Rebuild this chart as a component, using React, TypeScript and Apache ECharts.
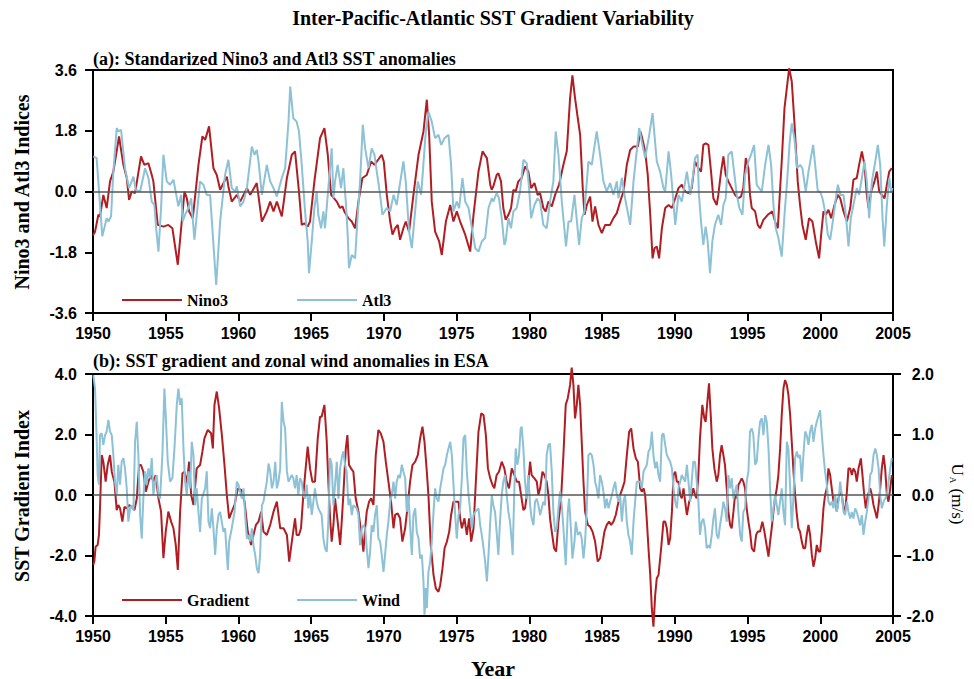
import React, { useEffect, useRef } from 'react';
import * as echarts from 'echarts';

const SANS = '"Liberation Sans", Arial, Helvetica, sans-serif';
const SERIF = '"Liberation Serif", "Times New Roman", Times, serif';
const RED = '#B01E23';
const BLUE = '#8CC1D6';

// x-axis range and ticks (years)
const yearMin = 1950;
const yearMax = 2005;
const yearStep = 5;

// Panel (a): standardized Nino3 index [year, value]
const nino3: [number, number][] = [
[1950.0,-1.30],[1950.14,-1.19],[1950.37,-0.69],[1950.48,-0.74],[1950.71,-0.10],[1950.94,-0.49],[1951.17,0.30],[1951.40,0.59],[1951.79,1.63],[1952.09,0.79],[1952.32,0.40],[1952.48,-0.25],[1952.66,0.00],[1952.89,-0.05],[1953.30,1.04],[1953.53,0.79],[1953.81,0.84],[1954.04,0.49],[1954.15,0.30],[1954.45,-0.99],[1954.84,-1.04],[1955.18,-0.99],[1955.46,-1.09],[1955.83,-2.17],[1956.29,0.00],[1956.45,-0.20],[1956.61,-0.59],[1956.86,-0.79],[1957.25,0.79],[1957.52,1.63],[1957.71,1.53],[1957.98,1.93],[1958.28,0.69],[1958.51,0.49],[1958.74,0.05],[1959.20,0.44],[1959.31,0.15],[1959.54,-0.30],[1959.89,-0.10],[1960.12,-0.30],[1960.58,0.10],[1960.81,-0.10],[1961.26,0.25],[1961.61,-0.89],[1961.95,-0.59],[1962.18,-0.30],[1962.41,-0.59],[1962.64,-0.30],[1962.98,-0.74],[1963.33,0.40],[1963.67,1.09],[1963.89,1.19],[1964.16,0.00],[1964.35,-0.99],[1964.53,-0.94],[1964.76,-1.04],[1964.92,-0.89],[1965.22,0.30],[1965.61,1.58],[1965.91,1.88],[1966.14,1.09],[1966.37,-0.10],[1966.76,-0.30],[1966.98,-0.49],[1967.15,-0.44],[1967.28,-0.59],[1967.56,-0.79],[1967.79,-0.89],[1968.02,-1.09],[1968.25,-0.30],[1968.52,0.40],[1968.82,0.49],[1969.12,0.89],[1969.35,0.79],[1969.85,1.09],[1969.99,0.89],[1970.20,-0.10],[1970.43,-0.89],[1970.59,-1.28],[1970.77,-1.09],[1970.95,-0.99],[1971.11,-1.43],[1971.34,-1.09],[1971.50,-0.89],[1971.73,-1.19],[1972.03,-0.10],[1972.38,1.09],[1972.72,1.78],[1972.95,2.72],[1973.11,1.68],[1973.29,-0.30],[1973.52,-1.19],[1973.80,-1.48],[1973.98,-1.88],[1974.26,-0.89],[1974.56,-0.40],[1974.78,-0.89],[1975.01,-0.59],[1975.24,-0.89],[1975.59,-1.28],[1975.93,-1.78],[1976.16,-0.69],[1976.50,0.59],[1976.78,1.19],[1977.08,0.99],[1977.31,0.20],[1977.41,0.05],[1977.52,0.15],[1977.75,0.49],[1977.87,0.54],[1978.05,0.30],[1978.21,-0.49],[1978.37,-0.84],[1978.56,-0.69],[1978.74,-0.49],[1978.90,0.05],[1979.06,0.00],[1979.24,0.30],[1979.47,0.40],[1979.70,0.74],[1979.93,0.59],[1980.12,0.10],[1980.35,0.25],[1980.57,-0.10],[1980.74,-0.05],[1980.96,-0.49],[1981.12,-0.59],[1981.31,-0.30],[1981.54,-0.44],[1981.77,-0.10],[1982.04,0.20],[1982.34,0.79],[1982.57,1.19],[1982.80,2.77],[1982.96,3.44],[1983.14,2.77],[1983.33,2.17],[1983.49,1.68],[1983.67,0.10],[1983.79,-0.69],[1983.95,-0.40],[1984.18,-0.15],[1984.34,-0.89],[1984.52,-0.44],[1984.75,-0.99],[1984.98,-1.23],[1985.21,-0.99],[1985.55,-0.99],[1985.78,-0.79],[1986.01,-0.64],[1986.24,-0.30],[1986.47,0.00],[1986.70,0.79],[1986.93,1.23],[1987.16,1.33],[1987.46,1.33],[1987.62,1.78],[1987.73,1.63],[1987.96,1.19],[1988.14,0.49],[1988.31,-0.69],[1988.47,-1.98],[1988.60,-1.68],[1988.76,-1.63],[1988.92,-1.98],[1989.11,-1.09],[1989.34,-0.49],[1989.57,-0.40],[1989.80,-0.49],[1990.03,-0.20],[1990.25,0.10],[1990.48,0.20],[1990.71,0.00],[1990.94,-0.05],[1991.16,0.10],[1991.39,0.89],[1991.62,0.69],[1991.80,0.59],[1991.96,1.38],[1992.12,1.43],[1992.31,1.38],[1992.49,0.59],[1992.65,-0.20],[1992.88,-0.40],[1992.99,-0.10],[1993.18,0.59],[1993.34,1.04],[1993.50,0.49],[1993.68,0.30],[1993.91,0.10],[1994.14,-0.10],[1994.37,-0.20],[1994.55,-0.15],[1994.71,0.10],[1994.88,0.99],[1995.06,0.69],[1995.17,-0.10],[1995.29,-0.49],[1995.52,-0.59],[1995.70,-0.99],[1995.86,-1.09],[1996.09,-0.84],[1996.39,-0.69],[1996.71,-0.59],[1996.89,-0.89],[1997.08,-1.09],[1997.35,0.89],[1997.54,2.47],[1997.70,3.06],[1997.86,3.65],[1998.04,3.26],[1998.22,2.07],[1998.45,0.30],[1998.61,-0.40],[1998.77,-0.99],[1999.00,-1.43],[1999.23,-0.79],[1999.46,-0.89],[1999.69,-1.48],[1999.92,-1.98],[2000.06,-1.28],[2000.22,-0.59],[2000.38,-0.69],[2000.56,-0.54],[2000.75,-0.79],[2000.98,-0.40],[2001.21,-0.10],[2001.37,-0.20],[2001.60,-0.59],[2001.83,-0.89],[2002.06,-0.49],[2002.28,0.35],[2002.51,0.40],[2002.67,0.79],[2002.86,1.19],[2003.04,0.79],[2003.20,-0.10],[2003.32,-0.49],[2003.50,0.00],[2003.73,0.30],[2003.89,0.59],[2004.05,0.00],[2004.23,-0.10],[2004.42,-0.20],[2004.58,0.20],[2004.74,0.59],[2004.92,0.69]
];

// Panel (a): standardized Atl3 index [year, value]
const atl3: [number, number][] = [
[1950.02,1.04],[1950.25,0.99],[1950.64,-1.33],[1950.94,-0.79],[1951.06,-0.89],[1951.24,-0.74],[1951.40,0.59],[1951.63,1.88],[1951.74,1.78],[1951.93,1.83],[1952.20,0.69],[1952.48,0.10],[1952.78,0.44],[1952.94,0.05],[1953.24,0.00],[1953.58,0.69],[1953.81,0.40],[1954.04,-0.30],[1954.22,-0.40],[1954.34,-1.09],[1954.50,-1.78],[1954.68,-0.49],[1954.84,1.09],[1955.07,0.30],[1955.30,0.20],[1955.53,0.35],[1955.87,-0.44],[1956.06,-0.10],[1956.17,-0.89],[1956.33,-0.69],[1956.56,-0.49],[1956.75,-0.20],[1956.97,-1.43],[1957.36,0.30],[1957.59,0.20],[1957.82,-0.10],[1958.05,-0.10],[1958.47,-2.77],[1958.74,-0.89],[1959.08,0.49],[1959.31,0.94],[1959.54,0.10],[1959.77,0.00],[1959.89,0.15],[1960.12,-0.44],[1960.35,-0.30],[1960.58,0.10],[1960.92,1.33],[1961.10,1.09],[1961.26,1.23],[1961.38,0.89],[1961.61,-0.10],[1961.95,0.79],[1962.18,0.30],[1962.41,0.10],[1962.64,-0.15],[1962.98,0.40],[1963.21,0.69],[1963.44,2.07],[1963.56,3.11],[1963.77,2.17],[1964.00,2.07],[1964.16,1.78],[1964.35,0.79],[1964.58,-0.59],[1964.76,-1.48],[1964.85,-2.42],[1965.04,-1.48],[1965.22,-0.49],[1965.38,0.00],[1965.49,-0.69],[1965.68,-1.09],[1965.84,-0.59],[1965.95,-1.09],[1966.18,0.10],[1966.41,1.28],[1966.53,-0.20],[1966.64,0.30],[1966.82,0.79],[1967.05,0.10],[1967.21,0.69],[1967.38,-0.30],[1967.51,-1.28],[1967.60,-2.27],[1967.79,-1.88],[1968.02,-1.98],[1968.20,-0.69],[1968.36,0.30],[1968.55,1.98],[1968.71,1.28],[1968.94,0.69],[1969.16,1.28],[1969.35,1.09],[1969.51,0.59],[1969.74,-0.10],[1969.90,-0.69],[1970.20,-0.49],[1970.43,-0.59],[1970.66,-0.10],[1970.88,-0.40],[1971.34,0.89],[1971.50,0.30],[1971.73,-1.19],[1971.92,-1.68],[1972.33,0.30],[1972.56,-0.10],[1972.88,1.78],[1973.06,2.37],[1973.29,2.07],[1973.52,1.58],[1973.75,1.68],[1973.94,1.38],[1974.17,1.58],[1974.44,1.68],[1974.62,0.79],[1974.78,-0.59],[1975.01,-0.30],[1975.17,-0.49],[1975.40,0.40],[1975.59,-0.30],[1975.82,-0.49],[1976.05,-1.09],[1976.28,-1.68],[1976.50,-1.78],[1976.73,-1.48],[1976.96,-1.38],[1977.19,-0.49],[1977.42,-0.20],[1977.52,-0.30],[1977.75,-0.05],[1977.91,-0.20],[1978.10,-0.79],[1978.28,-1.58],[1978.37,-1.48],[1978.56,-0.79],[1978.74,-1.09],[1978.90,-0.59],[1979.13,-0.49],[1979.36,0.00],[1979.59,0.94],[1979.82,0.84],[1979.98,0.10],[1980.12,-0.79],[1980.35,-0.40],[1980.57,-0.20],[1980.74,-0.30],[1980.96,-0.99],[1981.19,-1.09],[1981.42,-0.30],[1981.65,0.30],[1981.81,1.78],[1982.00,1.09],[1982.23,-0.30],[1982.52,-1.63],[1982.69,-0.89],[1982.87,-0.89],[1983.10,-0.10],[1983.42,-1.58],[1983.60,-0.79],[1983.79,-0.59],[1984.06,0.89],[1984.29,0.79],[1984.63,1.78],[1984.86,1.09],[1985.09,0.30],[1985.32,0.00],[1985.55,0.25],[1985.78,-0.10],[1986.01,0.30],[1986.13,-0.20],[1986.36,0.40],[1986.58,-0.20],[1986.93,-0.99],[1987.16,0.30],[1987.55,1.88],[1987.73,1.48],[1987.96,0.99],[1988.24,1.68],[1988.47,2.32],[1988.76,0.89],[1988.99,0.59],[1989.22,0.10],[1989.34,0.00],[1989.57,1.19],[1989.75,0.49],[1990.03,-0.99],[1990.25,-0.10],[1990.48,-0.30],[1990.83,0.59],[1991.06,-0.10],[1991.20,0.30],[1991.39,0.99],[1991.57,1.09],[1991.66,-0.10],[1991.80,-0.89],[1991.96,-1.58],[1992.12,-1.04],[1992.26,-1.48],[1992.42,-2.42],[1992.58,-1.48],[1992.76,-0.99],[1992.99,-0.69],[1993.18,-0.99],[1993.34,-0.40],[1993.50,-0.20],[1993.68,1.09],[1993.91,1.19],[1994.10,0.49],[1994.26,-0.10],[1994.44,-0.49],[1994.65,-0.69],[1994.83,0.49],[1995.06,0.89],[1995.24,1.09],[1995.45,1.38],[1995.63,0.20],[1995.79,0.10],[1995.98,0.00],[1996.21,0.79],[1996.44,1.38],[1996.62,0.79],[1996.78,-0.40],[1996.94,-1.09],[1997.12,-1.38],[1997.35,-1.93],[1997.54,-0.69],[1997.72,0.30],[1997.90,1.48],[1998.04,2.02],[1998.22,1.58],[1998.41,0.69],[1998.61,0.79],[1998.77,0.69],[1999.00,0.00],[1999.19,0.59],[1999.35,0.99],[1999.51,1.38],[1999.65,0.79],[1999.83,0.00],[1999.99,0.00],[2000.15,-0.20],[2000.33,-0.59],[2000.52,-1.28],[2000.68,-1.43],[2000.86,-0.89],[2001.07,-0.20],[2001.21,0.20],[2001.39,-0.10],[2001.60,-0.10],[2001.78,-0.79],[2001.94,-1.63],[2002.10,-0.79],[2002.28,-0.40],[2002.51,0.10],[2002.67,-0.10],[2002.86,0.40],[2003.04,0.89],[2003.20,0.30],[2003.36,-0.79],[2003.55,0.30],[2003.78,0.89],[2003.96,1.38],[2004.12,0.79],[2004.28,-0.79],[2004.40,-1.63],[2004.58,-0.40],[2004.74,0.40],[2004.88,0.00],[2004.97,0.10]
];

// Panel (b): SST gradient index [year, value] (left axis)
const gradient: [number, number][] = [
[1950.02,-2.30],[1950.09,-2.20],[1950.18,-1.71],[1950.32,-1.65],[1950.41,-1.32],[1950.48,-0.44],[1950.60,1.32],[1950.71,1.10],[1950.87,0.44],[1951.01,0.99],[1951.17,1.32],[1951.29,0.77],[1951.47,0.44],[1951.63,-0.50],[1951.74,-0.33],[1951.86,-0.44],[1952.02,-0.88],[1952.16,-0.39],[1952.32,-0.44],[1952.48,-0.33],[1952.66,-0.39],[1952.85,-0.50],[1953.01,-0.11],[1953.17,0.99],[1953.30,0.99],[1953.46,0.77],[1953.63,0.11],[1953.81,0.44],[1953.99,0.66],[1954.15,0.44],[1954.31,0.66],[1954.50,-0.11],[1954.68,-0.55],[1954.84,-2.09],[1955.00,-1.21],[1955.18,-0.55],[1955.37,-0.88],[1955.53,-1.10],[1955.69,-1.65],[1955.83,-2.48],[1955.99,-0.55],[1956.15,0.72],[1956.29,0.77],[1956.45,0.39],[1956.61,1.10],[1956.75,0.00],[1956.91,-0.33],[1957.13,0.88],[1957.36,0.99],[1957.52,1.43],[1957.66,1.87],[1957.89,2.15],[1958.12,2.04],[1958.24,1.54],[1958.35,2.98],[1958.51,3.42],[1958.67,2.87],[1958.86,1.98],[1959.04,0.99],[1959.20,0.00],[1959.36,-0.77],[1959.54,-0.55],[1959.73,-0.33],[1959.96,0.22],[1960.19,0.17],[1960.42,-0.22],[1960.64,-1.21],[1960.87,-1.65],[1961.03,-1.32],[1961.20,-0.99],[1961.38,-0.88],[1961.56,-0.55],[1961.72,-1.21],[1961.95,-1.32],[1962.18,-0.99],[1962.41,-0.55],[1962.64,-0.22],[1962.87,-1.10],[1963.10,-1.10],[1963.33,-1.32],[1963.49,-2.20],[1963.67,-1.54],[1963.89,-0.77],[1964.00,-1.32],[1964.16,-1.32],[1964.30,-1.10],[1964.46,0.00],[1964.62,0.88],[1964.76,1.60],[1964.92,0.88],[1965.08,0.44],[1965.26,0.44],[1965.45,1.87],[1965.61,2.59],[1965.72,2.59],[1965.91,2.98],[1966.07,1.76],[1966.18,0.44],[1966.30,-0.77],[1966.41,-1.54],[1966.53,-0.99],[1966.64,-0.11],[1966.82,-0.88],[1966.99,-1.65],[1967.10,-0.88],[1967.21,0.00],[1967.38,1.54],[1967.49,1.98],[1967.60,0.99],[1967.74,0.88],[1967.90,0.77],[1968.06,-0.11],[1968.25,-0.55],[1968.43,-1.21],[1968.59,-1.87],[1968.71,-1.10],[1968.82,-0.55],[1968.98,-0.22],[1969.12,-0.11],[1969.28,-0.33],[1969.44,1.32],[1969.62,2.15],[1969.78,2.04],[1969.97,1.76],[1970.13,1.10],[1970.31,0.44],[1970.49,-0.22],[1970.66,-1.10],[1970.77,-0.66],[1970.95,-0.61],[1971.11,-0.77],[1971.27,-1.54],[1971.46,-1.10],[1971.64,-0.33],[1971.80,0.44],[1971.96,0.99],[1972.15,1.10],[1972.33,1.32],[1972.49,1.87],[1972.65,2.26],[1972.79,1.76],[1972.95,0.77],[1973.06,0.00],[1973.22,-1.65],[1973.41,-2.64],[1973.57,-3.09],[1973.75,-3.20],[1973.87,-2.98],[1974.03,-2.42],[1974.17,-1.76],[1974.33,-1.54],[1974.49,-1.21],[1974.62,-0.66],[1974.78,-0.22],[1974.95,-0.22],[1975.13,-0.22],[1975.24,-0.77],[1975.36,-1.10],[1975.54,-0.77],[1975.70,-1.32],[1975.86,-0.77],[1976.00,-1.54],[1976.16,-1.10],[1976.32,0.44],[1976.50,2.09],[1976.69,2.70],[1976.85,2.64],[1977.01,1.98],[1977.15,0.88],[1977.31,0.55],[1977.47,0.33],[1977.59,0.22],[1977.75,0.66],[1977.91,0.77],[1978.10,1.10],[1978.28,0.88],[1978.44,0.44],[1978.60,0.22],[1978.79,0.88],[1978.97,0.66],[1979.13,0.44],[1979.29,0.44],[1979.43,0.00],[1979.59,-0.50],[1979.70,-0.44],[1979.89,0.22],[1980.05,1.10],[1980.16,0.66],[1980.35,0.55],[1980.51,0.44],[1980.62,0.00],[1980.74,0.22],[1980.90,0.77],[1981.03,0.66],[1981.19,0.44],[1981.31,0.00],[1981.42,-0.77],[1981.54,-1.21],[1981.70,-1.76],[1981.84,-1.87],[1982.00,-0.88],[1982.18,-0.11],[1982.34,1.32],[1982.50,2.98],[1982.64,3.20],[1982.80,3.64],[1982.91,4.21],[1983.03,3.64],[1983.14,2.53],[1983.26,2.98],[1983.37,3.64],[1983.49,2.98],[1983.60,1.76],[1983.72,0.44],[1983.83,-0.55],[1984.02,-0.99],[1984.18,-1.05],[1984.34,-1.21],[1984.52,-1.54],[1984.70,-2.20],[1984.86,-2.09],[1985.02,-1.65],[1985.16,-1.21],[1985.32,-0.99],[1985.48,-0.88],[1985.62,-0.99],[1985.78,-0.88],[1985.94,-0.66],[1986.08,-0.33],[1986.24,0.00],[1986.40,0.22],[1986.54,0.44],[1986.70,1.32],[1986.86,2.09],[1987.00,2.20],[1987.16,1.54],[1987.32,1.21],[1987.46,1.10],[1987.62,0.22],[1987.73,0.11],[1987.85,0.22],[1987.96,0.00],[1988.08,-0.88],[1988.19,-1.76],[1988.31,-2.64],[1988.42,-3.75],[1988.53,-4.35],[1988.65,-3.31],[1988.76,-2.75],[1988.88,-2.64],[1989.06,-1.76],[1989.22,-0.88],[1989.34,-0.88],[1989.45,-1.10],[1989.57,-1.65],[1989.68,-1.43],[1989.80,-0.55],[1989.91,0.66],[1990.03,0.77],[1990.14,0.44],[1990.25,0.44],[1990.37,0.00],[1990.48,-0.11],[1990.60,0.22],[1990.71,-0.22],[1990.83,-0.66],[1990.99,-0.22],[1991.16,0.00],[1991.27,0.22],[1991.39,0.00],[1991.50,-0.11],[1991.62,0.66],[1991.73,1.87],[1991.89,2.98],[1992.03,2.53],[1992.12,2.42],[1992.26,3.20],[1992.35,3.69],[1992.47,2.64],[1992.58,1.54],[1992.72,0.88],[1992.88,0.44],[1992.99,0.66],[1993.11,1.32],[1993.22,1.65],[1993.34,1.32],[1993.45,0.99],[1993.57,0.22],[1993.68,-0.55],[1993.80,-0.99],[1993.91,-1.10],[1994.03,-0.55],[1994.14,0.00],[1994.26,-0.11],[1994.37,0.33],[1994.49,0.44],[1994.60,0.55],[1994.71,0.44],[1994.83,0.22],[1994.94,-0.44],[1995.06,-0.88],[1995.17,-1.21],[1995.29,-1.76],[1995.45,-1.87],[1995.59,-1.32],[1995.70,-1.21],[1995.86,-1.21],[1996.02,-0.88],[1996.16,-1.21],[1996.27,-1.54],[1996.44,-2.04],[1996.55,-1.54],[1996.66,-1.10],[1996.78,-0.55],[1996.89,-0.11],[1997.01,0.22],[1997.12,0.66],[1997.24,1.54],[1997.35,2.64],[1997.47,3.53],[1997.58,3.80],[1997.70,3.64],[1997.81,3.31],[1997.93,2.64],[1998.04,1.76],[1998.16,0.77],[1998.27,0.00],[1998.39,-0.66],[1998.50,-1.10],[1998.61,-1.21],[1998.73,-1.54],[1998.84,-1.76],[1998.96,-1.76],[1999.07,-1.32],[1999.19,-0.99],[1999.30,-1.32],[1999.42,-1.98],[1999.53,-2.37],[1999.65,-2.09],[1999.76,-1.65],[1999.88,-1.87],[1999.99,-1.87],[2000.11,-1.21],[2000.22,-0.44],[2000.33,0.00],[2000.45,0.22],[2000.56,0.88],[2000.68,0.66],[2000.79,0.22],[2000.91,-0.22],[2001.02,-0.11],[2001.14,-0.55],[2001.25,-0.11],[2001.37,0.11],[2001.48,0.00],[2001.60,-0.44],[2001.71,-0.55],[2001.83,0.11],[2001.94,0.88],[2002.06,0.88],[2002.17,0.66],[2002.28,0.88],[2002.40,0.77],[2002.51,0.44],[2002.63,0.88],[2002.79,1.21],[2002.90,0.66],[2003.02,0.00],[2003.13,-0.44],[2003.27,0.00],[2003.43,0.22],[2003.55,0.00],[2003.66,-0.33],[2003.78,-0.55],[2003.89,-0.77],[2004.01,-0.33],[2004.12,0.22],[2004.23,0.88],[2004.35,1.32],[2004.46,0.88],[2004.58,0.00],[2004.69,-0.22],[2004.81,0.22],[2004.92,0.66]
];

// Panel (b): zonal wind anomaly, m/s [year, value] (right axis)
const wind: [number, number][] = [
[1950.02,1.98],[1950.14,1.76],[1950.25,0.94],[1950.32,0.33],[1950.41,0.17],[1950.48,0.99],[1950.60,1.02],[1950.71,0.83],[1950.83,0.99],[1950.94,1.05],[1951.06,1.24],[1951.17,1.05],[1951.29,0.99],[1951.40,0.66],[1951.51,0.22],[1951.63,0.00],[1951.74,0.50],[1951.86,0.17],[1951.97,0.55],[1952.09,0.61],[1952.20,0.44],[1952.32,0.11],[1952.43,-0.44],[1952.55,-0.22],[1952.66,-0.17],[1952.78,-0.25],[1952.89,0.88],[1953.01,1.21],[1953.12,0.66],[1953.24,-0.33],[1953.35,-0.72],[1953.46,-0.06],[1953.58,0.39],[1953.69,0.17],[1953.81,0.44],[1953.92,0.28],[1954.04,0.61],[1954.15,0.00],[1954.27,0.22],[1954.38,0.33],[1954.50,0.00],[1954.61,-0.06],[1954.77,0.66],[1954.91,1.76],[1955.00,1.32],[1955.14,0.55],[1955.30,0.22],[1955.46,0.28],[1955.60,0.77],[1955.76,1.49],[1955.87,1.76],[1955.99,1.49],[1956.10,1.60],[1956.22,0.77],[1956.33,0.22],[1956.45,0.00],[1956.56,0.39],[1956.68,0.11],[1956.79,0.88],[1956.91,0.66],[1957.02,-0.17],[1957.13,0.11],[1957.25,-0.28],[1957.36,-0.61],[1957.48,-0.06],[1957.71,0.11],[1957.82,0.39],[1957.94,-0.44],[1958.05,-0.55],[1958.17,-0.22],[1958.28,-0.55],[1958.40,-0.99],[1958.51,-0.55],[1958.63,-0.33],[1958.74,-0.28],[1958.97,-0.61],[1959.08,-0.55],[1959.20,-0.99],[1959.27,-1.24],[1959.36,-0.77],[1959.54,-0.55],[1959.73,-0.28],[1959.89,0.22],[1960.00,0.17],[1960.23,-0.06],[1960.35,0.11],[1960.46,-0.33],[1960.58,-0.72],[1960.69,-0.66],[1960.81,-0.77],[1960.92,-0.55],[1961.03,-0.83],[1961.15,-0.99],[1961.26,-1.21],[1961.38,-1.29],[1961.49,-0.99],[1961.61,-0.17],[1961.72,-0.11],[1961.95,0.22],[1962.07,0.52],[1962.18,0.39],[1962.30,0.11],[1962.41,0.22],[1962.53,0.55],[1962.64,0.11],[1962.75,0.22],[1962.87,0.44],[1962.98,1.54],[1963.10,1.21],[1963.21,1.10],[1963.33,0.39],[1963.44,0.22],[1963.67,0.33],[1963.77,0.28],[1963.89,0.11],[1964.00,0.33],[1964.12,0.00],[1964.23,0.28],[1964.35,0.22],[1964.46,0.00],[1964.58,-0.06],[1964.69,0.17],[1964.81,-0.22],[1964.92,0.00],[1965.04,-0.33],[1965.15,-0.11],[1965.26,0.11],[1965.38,-0.11],[1965.49,-0.22],[1965.72,-0.33],[1965.84,-0.72],[1965.95,-0.88],[1966.07,-0.94],[1966.18,-0.44],[1966.30,0.61],[1966.41,0.50],[1966.53,-0.17],[1966.64,0.17],[1966.76,0.55],[1966.87,-0.06],[1966.99,0.44],[1967.10,0.61],[1967.21,0.72],[1967.33,0.50],[1967.44,0.39],[1967.56,-0.17],[1967.67,-0.06],[1967.79,-0.33],[1967.90,-0.17],[1968.13,-0.22],[1968.25,-0.33],[1968.36,-0.83],[1968.48,-0.55],[1968.59,-0.50],[1968.71,-0.55],[1968.82,-0.88],[1968.94,-1.21],[1969.05,-0.94],[1969.16,-0.50],[1969.28,-0.61],[1969.39,-0.33],[1969.51,-0.17],[1969.62,-0.72],[1969.74,-0.77],[1969.85,-0.99],[1969.97,-1.27],[1970.08,-0.99],[1970.20,-0.66],[1970.31,-0.44],[1970.43,-0.11],[1970.54,0.00],[1970.66,0.22],[1970.77,-0.06],[1970.88,0.22],[1971.00,0.33],[1971.11,0.28],[1971.23,0.50],[1971.34,0.39],[1971.46,0.28],[1971.57,-0.28],[1971.69,0.00],[1971.80,-0.50],[1971.92,-0.99],[1972.03,-0.33],[1972.15,-0.22],[1972.26,-0.61],[1972.38,-0.72],[1972.49,-1.05],[1972.61,-0.99],[1972.72,-1.43],[1972.79,-1.98],[1972.88,-1.54],[1972.95,-1.87],[1973.06,-1.27],[1973.18,-1.10],[1973.29,-0.77],[1973.41,-0.28],[1973.52,0.11],[1973.64,-0.06],[1973.75,-0.11],[1973.87,0.11],[1974.10,0.44],[1974.21,0.50],[1974.33,0.66],[1974.44,0.77],[1974.56,0.88],[1974.67,0.66],[1974.90,-0.33],[1975.01,-0.72],[1975.13,-0.33],[1975.24,-0.22],[1975.36,0.28],[1975.47,0.94],[1975.59,0.99],[1975.70,0.39],[1975.82,0.00],[1976.05,-0.55],[1976.16,-0.33],[1976.28,-0.28],[1976.50,-0.22],[1976.62,-0.50],[1976.73,-0.66],[1976.85,-0.88],[1976.96,-1.10],[1977.08,-1.43],[1977.19,-0.99],[1977.31,-0.44],[1977.42,0.00],[1977.52,-0.17],[1977.64,-0.28],[1977.75,-0.61],[1977.87,-0.99],[1977.98,-0.44],[1978.10,0.00],[1978.21,0.22],[1978.33,0.33],[1978.44,0.00],[1978.56,-0.28],[1978.67,-0.44],[1978.79,-0.77],[1978.85,-0.99],[1978.97,0.11],[1979.06,0.77],[1979.18,0.50],[1979.29,0.66],[1979.40,1.10],[1979.47,1.13],[1979.59,0.77],[1979.70,0.22],[1979.82,-0.06],[1979.93,0.33],[1980.05,-0.17],[1980.16,-0.39],[1980.28,-0.50],[1980.39,-0.11],[1980.51,-0.06],[1980.62,-0.17],[1980.74,-0.33],[1980.85,-0.22],[1980.96,-0.11],[1981.08,-0.17],[1981.19,0.66],[1981.31,0.83],[1981.42,0.85],[1981.54,0.39],[1981.65,-0.28],[1981.77,-0.61],[1981.88,-0.55],[1982.00,-0.22],[1982.11,0.06],[1982.23,-0.17],[1982.34,-0.55],[1982.50,-1.16],[1982.64,-0.28],[1982.73,-0.06],[1982.87,-0.61],[1982.96,-1.05],[1983.10,-0.77],[1983.19,-0.44],[1983.33,-0.66],[1983.49,-0.61],[1983.60,-0.72],[1983.72,-1.05],[1983.83,-0.77],[1983.95,-0.22],[1984.06,0.66],[1984.18,0.69],[1984.29,0.66],[1984.41,0.50],[1984.52,0.22],[1984.63,0.11],[1984.75,-0.06],[1984.86,0.33],[1984.98,0.22],[1985.09,0.06],[1985.21,-0.22],[1985.32,-0.06],[1985.44,-0.22],[1985.55,-0.11],[1985.67,0.00],[1985.78,0.11],[1985.90,0.22],[1986.01,0.00],[1986.13,-0.11],[1986.24,0.00],[1986.36,-0.44],[1986.47,-0.11],[1986.58,0.00],[1986.70,-0.44],[1986.81,-0.66],[1986.93,-0.77],[1987.04,-0.99],[1987.16,-0.44],[1987.27,-0.11],[1987.39,0.22],[1987.62,0.22],[1987.73,0.11],[1987.85,0.39],[1988.08,0.50],[1988.19,0.72],[1988.31,0.77],[1988.42,1.05],[1988.53,0.66],[1988.65,0.44],[1988.76,0.55],[1988.88,0.33],[1988.99,0.22],[1989.11,0.99],[1989.22,1.02],[1989.34,0.83],[1989.45,0.66],[1989.68,0.55],[1989.80,0.44],[1989.91,0.11],[1990.03,-0.11],[1990.14,-0.22],[1990.25,0.11],[1990.37,0.22],[1990.48,0.33],[1990.71,0.22],[1990.83,0.50],[1991.06,-0.11],[1991.16,0.22],[1991.27,0.55],[1991.39,0.55],[1991.62,-0.11],[1991.73,-0.66],[1991.85,-0.44],[1991.96,-0.39],[1992.08,-0.55],[1992.19,-0.88],[1992.31,-0.83],[1992.42,-0.88],[1992.54,-0.66],[1992.65,-0.39],[1992.76,-0.22],[1992.88,-0.66],[1992.99,-0.72],[1993.11,-0.50],[1993.22,-0.33],[1993.34,-0.11],[1993.45,-0.22],[1993.57,-0.44],[1993.68,0.33],[1993.80,0.11],[1993.91,0.28],[1994.03,-0.06],[1994.14,0.06],[1994.26,0.17],[1994.37,-0.28],[1994.49,-0.66],[1994.60,-0.77],[1994.71,-0.28],[1994.83,-0.22],[1994.94,0.22],[1995.06,0.39],[1995.17,1.05],[1995.29,1.10],[1995.40,0.99],[1995.52,0.50],[1995.63,0.55],[1995.75,0.94],[1995.86,1.21],[1995.98,1.27],[1996.09,0.99],[1996.21,1.32],[1996.32,1.21],[1996.44,0.77],[1996.55,0.11],[1996.66,-0.44],[1996.78,-0.22],[1996.89,0.00],[1997.01,-0.17],[1997.12,-0.33],[1997.24,-0.11],[1997.35,0.11],[1997.47,-0.28],[1997.58,-0.50],[1997.70,0.88],[1997.81,0.77],[1997.93,0.11],[1998.04,-0.55],[1998.16,0.00],[1998.27,0.61],[1998.39,0.72],[1998.50,0.61],[1998.61,0.66],[1998.73,0.22],[1998.84,0.66],[1998.96,1.05],[1999.07,0.99],[1999.19,0.83],[1999.30,1.05],[1999.42,1.16],[1999.53,0.88],[1999.65,1.10],[1999.76,1.21],[1999.99,1.40],[2000.11,0.99],[2000.22,0.66],[2000.33,0.39],[2000.45,0.17],[2000.56,-0.11],[2000.68,-0.17],[2000.79,-0.11],[2000.91,-0.22],[2001.02,0.00],[2001.14,-0.28],[2001.25,-0.11],[2001.37,0.22],[2001.48,0.00],[2001.60,-0.28],[2001.71,-0.33],[2001.83,-0.11],[2001.94,-0.28],[2002.06,-0.39],[2002.17,-0.28],[2002.28,-0.39],[2002.40,-0.22],[2002.51,-0.28],[2002.63,-0.39],[2002.74,-0.50],[2002.86,-0.33],[2002.97,-0.66],[2003.09,-0.44],[2003.20,-0.28],[2003.32,-0.06],[2003.43,0.33],[2003.55,0.39],[2003.66,0.66],[2003.78,0.77],[2003.89,0.66],[2004.01,0.44],[2004.12,0.00],[2004.23,-0.22],[2004.35,-0.11],[2004.46,-0.06],[2004.58,0.00],[2004.81,0.44],[2004.92,0.61]
];

const xAxisFor = (gridIndex: number) => ({
  type: 'value',
  gridIndex,
  min: yearMin,
  max: yearMax,
  interval: yearStep,
  axisLine: { show: true, onZero: false, lineStyle: { color: '#000', width: 2 } },
  axisTick: { show: true, length: 8, lineStyle: { color: '#000', width: 2 } },
  axisLabel: {
    color: '#000', fontFamily: SANS, fontWeight: 'bold', fontSize: 16, margin: 12,
    formatter: (v: number) => String(Math.round(v)),
  },
  splitLine: { show: false },
});

const yAxisFor = (gridIndex: number, min: number, max: number, interval: number, position: 'left' | 'right') => ({
  type: 'value',
  gridIndex,
  position,
  min,
  max,
  interval,
  axisLine: { show: true, onZero: false, lineStyle: { color: '#000', width: 2 } },
  axisTick: { show: true, length: 8, lineStyle: { color: '#000', width: 2 } },
  axisLabel: {
    color: '#000', fontFamily: SANS, fontWeight: 'bold', fontSize: 16,
    margin: position === 'left' ? 16 : 41,
    align: 'right',
    formatter: (v: number) => v.toFixed(1),
  },
  splitLine: { show: false },
});

const zeroLine = {
  silent: true,
  symbol: ['none', 'none'],
  label: { show: false },
  emphasis: { disabled: true },
  lineStyle: { color: '#555', width: 1.5, type: 'solid' },
  data: [{ yAxis: 0 }],
};

const legendFor = (name: string, left: number, top: number) => ({
  data: [name],
  left,
  top,
  padding: 0,
  icon: 'rect',
  itemWidth: 60,
  itemHeight: 2,
  itemGap: 0,
  selectedMode: false,
  textStyle: { color: '#000', fontFamily: SERIF, fontWeight: 'bold', fontSize: 16 },
});

const textEl = (text: string, x: number, y: number, size: number, bold: boolean, align: string, rotation = 0, extra: any = {}) => ({
  type: 'text',
  x,
  y,
  rotation,
  silent: true,
  style: {
    text,
    fill: '#000',
    fontFamily: SERIF,
    fontSize: size,
    fontWeight: bold ? 'bold' : 'normal',
    align,
    verticalAlign: 'middle',
    textAlign: align,
    textVerticalAlign: 'middle',
    ...extra,
  },
});

export default function App() {
  const ref = useRef<HTMLDivElement>(null);
  useEffect(() => {
    if (!ref.current) return;
    const chart = echarts.init(ref.current, null, { renderer: 'svg' });
    const option: any = {
      animation: false,
      backgroundColor: '#fff',
      grid: [
        { left: 93, top: 70, width: 800, height: 243, show: true, borderColor: '#000', borderWidth: 2, backgroundColor: 'transparent' },
        { left: 93, top: 374, width: 800, height: 242, show: true, borderColor: '#000', borderWidth: 2, backgroundColor: 'transparent' },
      ],
      xAxis: [xAxisFor(0), xAxisFor(1)],
      yAxis: [
        yAxisFor(0, -3.6, 3.6, 1.8, 'left'),
        yAxisFor(1, -4, 4, 2, 'left'),
        yAxisFor(1, -2, 2, 1, 'right'),
      ],
      legend: [
        legendFor('Nino3', 122, 292),
        legendFor('Atl3', 297, 292),
        legendFor('Gradient', 122, 592),
        legendFor('Wind', 297, 592),
      ],
      series: [
        {
          name: 'Nino3', type: 'line', xAxisIndex: 0, yAxisIndex: 0, data: nino3,
          showSymbol: false, symbol: 'none', clip: false, color: RED,
          lineStyle: { color: RED, width: 2 }, markLine: zeroLine,
        },
        {
          name: 'Atl3', type: 'line', xAxisIndex: 0, yAxisIndex: 0, data: atl3,
          showSymbol: false, symbol: 'none', clip: false, color: BLUE,
          lineStyle: { color: BLUE, width: 2 },
        },
        {
          name: 'Gradient', type: 'line', xAxisIndex: 1, yAxisIndex: 1, data: gradient,
          showSymbol: false, symbol: 'none', clip: false, color: RED,
          lineStyle: { color: RED, width: 2 }, markLine: zeroLine,
        },
        {
          name: 'Wind', type: 'line', xAxisIndex: 1, yAxisIndex: 2, data: wind,
          showSymbol: false, symbol: 'none', clip: false, color: BLUE,
          lineStyle: { color: BLUE, width: 2 },
        },
      ],
      graphic: [
        textEl('Inter-Pacific-Atlantic SST Gradient Variability', 493, 18, 20, true, 'center'),
        textEl('(a): Standarized Nino3 and Atl3 SST anomalies', 93, 59, 18, true, 'left'),
        textEl('(b): SST gradient and zonal wind anomalies in ESA', 93, 361, 18, true, 'left'),
        textEl('Nino3 and Atl3 Indices', 22, 192, 20, true, 'center', Math.PI / 2),
        textEl('SST Gradient Index', 22, 496, 20, true, 'center', Math.PI / 2),
        textEl('Year', 493, 668, 22, true, 'center'),
        textEl('U{s|A} (m/s)', 957, 494, 17, false, 'center', -Math.PI / 2, {
          rich: { s: { fontSize: 9, fontFamily: SERIF, fill: '#000', verticalAlign: 'bottom', padding: [8, 1, 0, 1] } },
        }),
      ],
    };
    chart.setOption(option);
    return () => chart.dispose();
  }, []);
  return (
    <div
      ref={ref}
      style={{ position: 'absolute', left: 0, top: 0, width: 974, height: 679, background: '#fff' }}
    />
  );
}
